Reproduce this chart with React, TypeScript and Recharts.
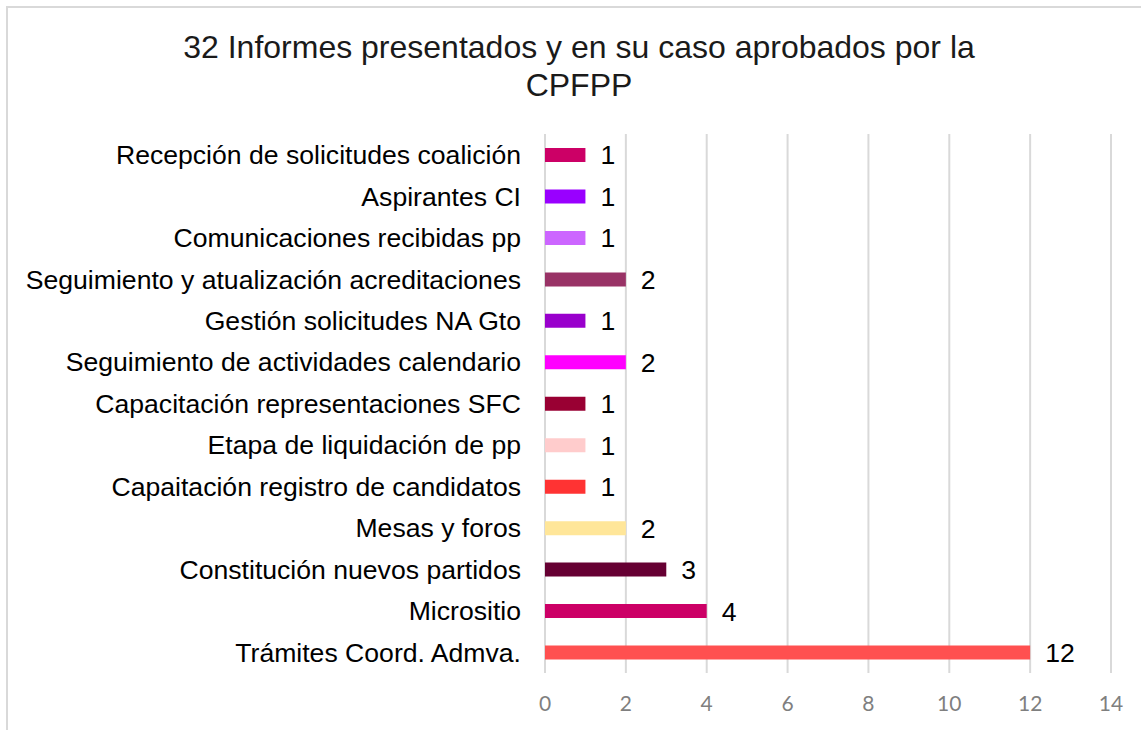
import { BarChart, Bar, XAxis, YAxis, CartesianGrid, Cell, LabelList } from 'recharts'

const categories = [
  'Recepción de solicitudes coalición',
  'Aspirantes CI',
  'Comunicaciones recibidas pp',
  'Seguimiento y atualización acreditaciones',
  'Gestión solicitudes NA Gto',
  'Seguimiento de actividades calendario',
  'Capacitación representaciones SFC',
  'Etapa de liquidación de pp',
  'Capaitación registro de candidatos',
  'Mesas y foros',
  'Constitución nuevos partidos',
  'Micrositio',
  'Trámites Coord. Admva.',
]
const informes = [1, 1, 1, 2, 1, 2, 1, 1, 1, 2, 3, 4, 12]
const barColors = [
  '#CC0066', '#9900FF', '#CC66FF', '#993366', '#9900CC', '#FF00FF', '#990033',
  '#FFCCCC', '#FF3333', '#FFE699', '#660033', '#CC0066', '#FF5050',
]
const xTicks = [0, 2, 4, 6, 8, 10, 12, 14]
const titleLines = ['32 Informes presentados y en su caso aprobados por la', 'CPFPP']

const data = categories.map((name, i) => ({ name, value: informes[i] }))

const font = '"Liberation Sans", Arial, sans-serif'

export default function App() {
  return (
    <div style={{ position: 'absolute', left: 0, top: 0, width: 1141, height: 730, background: '#fff', overflow: 'hidden' }}>
      <div style={{ position: 'absolute', left: 6, top: 6, width: 1160, height: 760, border: '2px solid #d9d9d9' }} />
      <svg width={1141} height={120} style={{ position: 'absolute', left: 0, top: 0 }}>
        {titleLines.map((t, i) => (
          <text key={i} x={579} y={58 + i * 38} textAnchor="middle" fontFamily={font} fontSize={32} fill="#1a1a1a">
            {t}
          </text>
        ))}
      </svg>
      <div style={{ position: 'absolute', left: 0, top: 0 }}>
        <BarChart
          width={1141}
          height={730}
          data={data}
          layout="vertical"
          margin={{ top: 134, right: 30, bottom: 17, left: 0 }}
          barCategoryGap={0}
        >
          <CartesianGrid horizontal={false} stroke="#d9d9d9" strokeWidth={2} />
          <XAxis
            type="number"
            domain={[0, 14]}
            ticks={xTicks}
            axisLine={false}
            tickLine={false}
            tickMargin={17}
            height={40}
            tick={{ fill: '#7f7f7f', fontSize: 21, fontFamily: 'Lato, sans-serif' }}
          />
          <YAxis
            type="category"
            dataKey="name"
            width={545}
            axisLine={false}
            tickLine={false}
            tickSize={0}
            tickMargin={24}
            interval={0}
            tick={{ fill: '#000', fontSize: 26.6, fontFamily: font }}
          />
          <Bar dataKey="value" barSize={14} isAnimationActive={false}>
            {data.map((d, i) => (
              <Cell key={d.name} fill={barColors[i]} />
            ))}
            <LabelList dataKey="value" position="right" offset={15} fill="#000" fontSize={26.6} fontFamily={font} />
          </Bar>
        </BarChart>
      </div>
    </div>
  )
}
